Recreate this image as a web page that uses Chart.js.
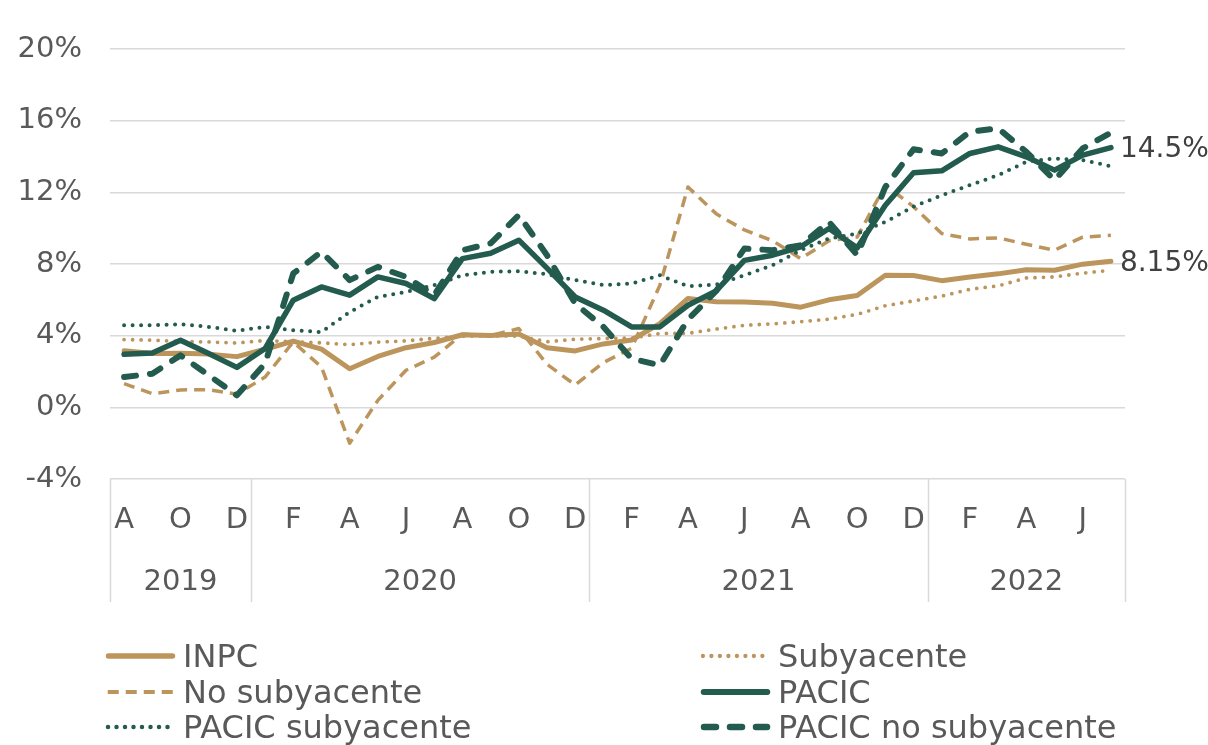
<!DOCTYPE html>
<html>
<head>
<meta charset="utf-8">
<script src="https://cdn.jsdelivr.net/npm/chart.js@4.4.1/dist/chart.umd.min.js"></script>
<style>
  html, body { margin: 0; padding: 0; background: #ffffff; }
  #wrap { position: relative; width: 1208px; height: 745px; overflow: hidden; }
  #c { position: absolute; left: 0; top: 0; }
  .lg { position: absolute; display: flex; align-items: center; font-family: 'DejaVu Sans', sans-serif; font-size: 32px; color: #595959; white-space: nowrap; }
  .lg svg { margin-right: 6px; }
</style>
</head>
<body>
<div id="wrap">
  <canvas id="c" width="1208" height="745"></canvas>
  <div id="legend"></div>
</div>
<script>
// ---- Data ----
const months = ['A','S','O','N','D','E','F','M','A','M','J','J','A','S','O','N','D','E','F','M','A','M','J','J','A','S','O','N','D','E','F','M','A','M','J','J'];
const years  = ['2019','2019','2019','2019','2019',
  '2020','2020','2020','2020','2020','2020','2020','2020','2020','2020','2020','2020',
  '2021','2021','2021','2021','2021','2021','2021','2021','2021','2021','2021','2021',
  '2022','2022','2022','2022','2022','2022','2022'];
const yTicks = [-4, 0, 4, 8, 12, 16, 20];

const inpc = [3.16,3.00,3.02,2.97,2.83,3.24,3.70,3.25,2.15,2.84,3.33,3.62,4.05,4.01,4.09,3.33,3.15,3.54,3.76,4.67,6.08,5.89,5.88,5.81,5.59,6.00,6.24,7.37,7.36,7.07,7.28,7.45,7.68,7.65,7.99,8.15];
const subyacente = [3.78,3.75,3.68,3.65,3.59,3.73,3.66,3.60,3.50,3.64,3.71,3.85,3.97,3.99,3.98,3.66,3.80,3.84,3.87,4.12,4.13,4.37,4.58,4.66,4.78,4.92,5.19,5.67,5.94,6.21,6.59,6.78,7.22,7.28,7.49,7.65];
const noSubyacente = [1.32,0.76,0.97,0.99,0.73,1.69,3.65,2.25,-2.0,0.39,2.07,2.8,4.08,4.0,4.4,2.4,1.25,2.5,3.3,6.8,12.3,10.8,9.9,9.3,8.3,9.3,9.5,12.4,11.2,9.7,9.4,9.46,9.1,8.77,9.5,9.6];
const pacic = [2.96,3.03,3.74,3.0,2.23,3.28,5.98,6.72,6.26,7.28,6.91,6.07,8.3,8.6,9.33,7.77,6.16,5.42,4.49,4.49,5.7,6.5,8.2,8.49,8.96,9.98,8.9,11.28,13.09,13.2,14.17,14.54,13.98,13.24,14.08,14.5];
const pacicSub = [4.58,4.58,4.64,4.49,4.27,4.49,4.3,4.2,5.32,6.16,6.44,6.82,7.37,7.56,7.6,7.43,7.1,6.82,6.91,7.37,6.76,6.85,7.37,7.93,8.77,9.42,9.7,10.35,11.2,11.84,12.4,12.96,13.7,13.89,13.8,13.46];
const pacicNoSub = [1.69,1.88,2.9,1.79,0.67,2.44,7.47,8.68,7.1,7.84,7.28,6.26,8.77,9.15,10.73,8.49,5.79,4.49,2.72,2.35,4.9,6.5,8.86,8.77,9.05,10.35,8.5,12.3,14.4,14.17,15.38,15.57,14.26,12.68,14.45,15.33];

const seriesNames = ['INPC','Subyacente','No subyacente','PACIC','PACIC subyacente','PACIC no subyacente'];
const GOLD = '#BC955C', GREEN = '#235B4E', TEXT = '#595959', GRID = '#d9d9d9';
const FONT = "'DejaVu Sans', sans-serif";

const styles = [
  { color: GOLD,  width: 5,   dash: [],        cap: 'round' },
  { color: GOLD,  width: 3.8, dash: [0, 8.5],  cap: 'round' },
  { color: GOLD,  width: 3.5, dash: [11, 7],   cap: 'butt' },
  { color: GREEN, width: 5.5, dash: [],        cap: 'round' },
  { color: GREEN, width: 4,   dash: [0, 8.5],  cap: 'round' },
  { color: GREEN, width: 6,   dash: [12, 14],  cap: 'round' }
];
const values = [inpc, subyacente, noSubyacente, pacic, pacicSub, pacicNoSub];

const datasets = values.map((d, i) => ({
  label: seriesNames[i],
  data: d,
  borderColor: styles[i].color,
  backgroundColor: styles[i].color,
  borderWidth: styles[i].width,
  borderDash: styles[i].dash,
  borderCapStyle: styles[i].cap,
  borderJoinStyle: 'round',
  pointRadius: 0,
  tension: 0,
  fill: false,
  order: 5 - i
}));

// Year groups & separators under the x axis, plus end labels
const extrasPlugin = {
  id: 'extras',
  afterDraw(chart) {
    const ctx = chart.ctx, xs = chart.scales.x, area = chart.chartArea;
    const step = xs.getPixelForValue(1) - xs.getPixelForValue(0);
    const edgeBefore = i => xs.getPixelForValue(i) - step / 2;
    const top = area.bottom, bottom = area.bottom + 123;
    const groups = [];
    let s = 0;
    for (let i = 0; i < years.length; i++) {
      if (i === years.length - 1 || years[i + 1] !== years[i]) { groups.push([s, i]); s = i + 1; }
    }
    ctx.save();
    ctx.strokeStyle = GRID; ctx.lineWidth = 1.5;
    const edges = [edgeBefore(0)];
    groups.forEach(g => edges.push(edgeBefore(g[1]) + step));
    edges.forEach(x => { ctx.beginPath(); ctx.moveTo(Math.round(x) + 0.5, top); ctx.lineTo(Math.round(x) + 0.5, bottom); ctx.stroke(); });
    ctx.fillStyle = TEXT; ctx.font = '29px ' + FONT; ctx.textAlign = 'center'; ctx.textBaseline = 'middle';
    groups.forEach((g, k) => {
      const cx = (edges[k] + edges[k + 1]) / 2;
      ctx.fillText(years[g[0]], cx, top + 103);
    });
    // end labels for INPC and PACIC
    ctx.fillStyle = '#404040'; ctx.font = '28px ' + FONT; ctx.textAlign = 'left';
    [0, 3].forEach(di => {
      const meta = chart.getDatasetMeta(di);
      const pt = meta.data[meta.data.length - 1];
      const v = values[di][values[di].length - 1];
      ctx.fillText(v + '%', pt.x + 9, pt.y + 2);
    });
    ctx.restore();
  }
};

Chart.defaults.font.family = FONT;
Chart.defaults.color = TEXT;

new Chart(document.getElementById('c'), {
  type: 'line',
  data: { labels: months, datasets },
  options: {
    responsive: false,
    animation: false,
    layout: { padding: { top: 49, right: 83, left: 0, bottom: 0 } },
    plugins: { legend: { display: false }, tooltip: { enabled: false } },
    scales: {
      x: {
        type: 'category',
        offset: true,
        grid: { display: false, drawTicks: false },
        border: { display: false },
        ticks: {
          autoSkip: false, maxRotation: 0, minRotation: 0, padding: 24,
          font: { size: 29 }, color: TEXT,
          callback: (v, i) => (i % 2 === 0 ? months[i] : '')
        },
        afterFit: s => { s.height = 266; }
      },
      y: {
        min: yTicks[0], max: yTicks[yTicks.length - 1],
        afterBuildTicks: s => { s.ticks = yTicks.map(v => ({ value: v })); },
        grid: { color: GRID, lineWidth: 1.5, drawTicks: false },
        border: { display: false },
        ticks: { padding: 28, font: { size: 29 }, color: TEXT, callback: v => v + '%' },
        afterFit: s => { s.width = 110; }
      }
    }
  },
  plugins: [extrasPlugin]
});

// HTML legend (two columns)
const legendPos = [
  { x: 105, y: 656 }, { x: 700, y: 656 },
  { x: 105, y: 692 }, { x: 700, y: 692 },
  { x: 105, y: 727 }, { x: 700, y: 727 }
];
const legend = document.getElementById('legend');
seriesNames.forEach((name, i) => {
  const st = styles[i];
  const div = document.createElement('div');
  div.className = 'lg';
  div.style.left = legendPos[i].x + 'px';
  div.style.top = (legendPos[i].y - 20) + 'px';
  div.style.height = '40px';
  const dash = st.dash.length ? st.dash.join(' ') : 'none';
  div.innerHTML = '<svg width="72" height="12"><line x1="' + (st.width / 2 + 1) + '" y1="6" x2="' + (70 - st.width / 2) + '" y2="6" stroke="' + st.color +
    '" stroke-width="' + (st.width + 0.5) + '" stroke-linecap="' + st.cap + '" stroke-dasharray="' + dash + '"/></svg><span>' + name + '</span>';
  legend.appendChild(div);
});
</script>
</body>
</html>
